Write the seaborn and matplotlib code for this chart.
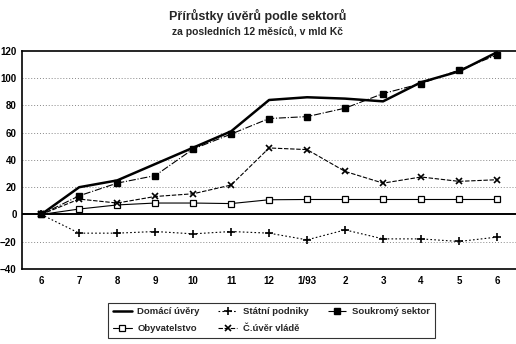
import matplotlib
matplotlib.use("Agg")
import matplotlib.pyplot as plt
import seaborn as sns
import pandas as pd

months = ["6", "7", "8", "9", "10", "11", "12", "1/93", "2", "3", "4", "5", "6"]
domaci_uvery = [0, 20, 25, 37, 49, 61, 84, 86, 85, 83, 97, 105, 119]
statni_podniky = [0, -13.7, -13.7, -12.5, -14.2, -12.5, -13.7, -18.6, -11.3, -17.9, -17.9, -19.8, -16.6]
soukromy_sektor = [0, 13.7, 23, 28.5, 48, 59, 70.4, 71.8, 78, 88.7, 96, 106, 117]
obyvatelstvo = [0, 4, 7, 8.4, 8.4, 8, 10.8, 11, 11, 11, 11, 11, 11]
uver_vlade = [0, 11.3, 8.4, 13.2, 15.2, 21.6, 48.8, 47.6, 31.6, 23, 27.5, 24.3, 25.5]

series = {
    "Domácí úvěry": domaci_uvery,
    "Obyvatelstvo": obyvatelstvo,
    "Státní podniky": statni_podniky,
    "Č.úvěr vládě": uver_vlade,
    "Soukromý sektor": soukromy_sektor,
}

sns.set_style("white")
plt.rcParams["font.family"] = ["Liberation Sans", "DejaVu Sans"]
plt.rcParams["font.weight"] = "bold"

fig = plt.figure(figsize=(5.16, 3.44), dpi=100)
ax = fig.add_axes([0.043, 0.218, 0.957, 0.634])

pos = list(range(len(months)))
styles = {
    "Domácí úvěry": dict(lw=1.8, ls="-", marker=None),
    "Obyvatelstvo": dict(lw=0.8, ls="-", marker="s", ms=5, mfc="white", mec="black", mew=0.9),
    "Státní podniky": dict(lw=0.8, ls=(0, (1.5, 2)), marker="+", ms=6, mew=1.2),
    "Č.úvěr vládě": dict(lw=0.8, ls=(0, (4, 1.5)), marker="x", ms=5, mew=1.2),
    "Soukromý sektor": dict(lw=0.8, ls="-.", marker="s", ms=5, mfc="black", mec="black"),
}

for name, vals in series.items():
    df = pd.DataFrame({"pos": pos, "val": vals})
    st = styles[name]
    sns.lineplot(data=df, x="pos", y="val", ax=ax, color="black", label=name,
                 linewidth=st["lw"], linestyle=st["ls"],
                 marker=st.get("marker"), markersize=st.get("ms", 6),
                 markerfacecolor=st.get("mfc", "black"),
                 markeredgecolor=st.get("mec", "black"),
                 markeredgewidth=st.get("mew", 1.0), zorder=3)

ax.axhline(0, color="black", lw=1.4, zorder=2)
for gy in [-20, 20, 40, 60, 80, 100]:
    ax.axhline(gy, color="#888888", lw=0.7, ls=(0, (1, 2)), zorder=1)

ax.set_xlim(-0.5, len(months) - 0.5)
ax.set_ylim(-40, 120)
ax.set_yticks(range(-40, 121, 20))
ax.set_xticks(pos)
ax.set_xticklabels(months)
ax.set_xlabel("")
ax.set_ylabel("")
ax.tick_params(axis="both", direction="out", length=3, width=0.8, labelsize=7,
               colors="black")
ax.tick_params(axis="y", pad=1)
ax.tick_params(axis="x", pad=2)
for lab in ax.get_xticklabels() + ax.get_yticklabels():
    lab.set_fontweight("bold")

for side in ["left", "top", "bottom"]:
    ax.spines[side].set_visible(True)
    ax.spines[side].set_color("black")
    ax.spines[side].set_linewidth(1.2)
ax.spines["right"].set_visible(False)

ax.get_legend().remove()
handles, labels = ax.get_legend_handles_labels()
leg = fig.legend(handles, labels, ncol=3, loc="upper left",
                 bbox_to_anchor=(0.2, 0.134), frameon=True, fancybox=False,
                 edgecolor="black", fontsize=6.8, handlelength=2.0,
                 handletextpad=0.6, columnspacing=2.0, borderpad=0.5,
                 labelspacing=0.8, markerscale=0.9)
leg.get_frame().set_linewidth(0.8)
for t in leg.get_texts():
    t.set_fontweight("bold")

fig.text(0.5, 0.953, "Přírůstky úvěrů podle sektorů", ha="center", va="center",
         fontsize=9, fontweight="bold")
fig.text(0.5, 0.907, "za posledních 12 měsíců, v mld Kč", ha="center", va="center",
         fontsize=7.5, fontweight="bold")

fig.savefig("out.png", dpi=100)
